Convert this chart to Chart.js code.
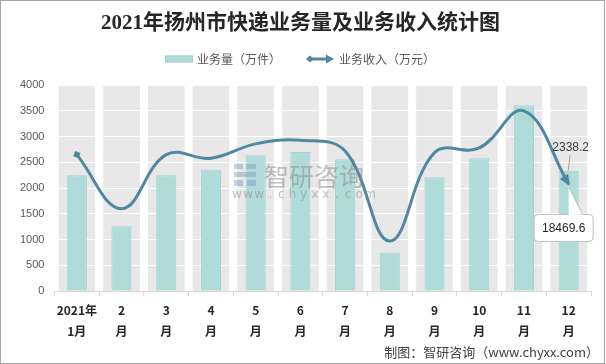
<!DOCTYPE html>
<html lang="zh-CN">
<head>
  <meta charset="UTF-8">
  <title>2021年扬州市快递业务量及业务收入统计图</title>
  <script src="https://cdn.jsdelivr.net/npm/chart.js"></script>
  <style>
    body { margin: 0; background: #fff; }
    #wrap { width: 606px; height: 364px; position: relative; }
  </style>
</head>
<body>
  <div id="wrap"><canvas id="expressChart"></canvas></div>

  <script>
    const months = [['2021年', '1月'], ['2', '月'], ['3', '月'], ['4', '月'], ['5', '月'], ['6', '月'],
                    ['7', '月'], ['8', '月'], ['9', '月'], ['10', '月'], ['11', '月'], ['12', '月']];
    const volume = [2250, 1260, 2250, 2360, 2640, 2700, 2560, 750, 2210, 2580, 3610, 2338.2];   // 业务量（万件）
    const revenue = [2650, 1600, 2650, 2580, 2860, 2930, 2720, 970, 2690, 2780, 3500, 2080];   // 业务收入（万元），按图上位置读取
    const yMin = 0, yMax = 4000, yStep = 500;
    const lastVolumeLabel = '2338.2';
    const lastRevenueLabel = '18469.6';

    const barColor = '#afdcd8';
    const lineColor = '#5088a1';
    const cjk = '"Noto Sans CJK SC", "Liberation Sans", sans-serif';

    // gray column behind every category
    const bandPlugin = {
      id: 'bands',
      beforeDraw(chart) {
        const { ctx, chartArea, scales: { x } } = chart;
        const w = (chartArea.right - chartArea.left) / months.length;
        ctx.save();
        ctx.fillStyle = '#e8e8e8';
        months.forEach((m, i) => {
          const cx = x.getPixelForValue(i);
          ctx.fillRect(cx - w * 0.41, chartArea.top, w * 0.82, chartArea.bottom - chartArea.top);
        });
        ctx.restore();
      }
    };

    const extrasPlugin = {
      id: 'extras',
      afterDatasetsDraw(chart) {
        const ctx = chart.ctx;
        const lineMeta = chart.getDatasetMeta(1);
        const barMeta = chart.getDatasetMeta(0);
        const p = lineMeta.data[lineMeta.data.length - 1];
        const b = barMeta.data[barMeta.data.length - 1];
        ctx.save();

        // watermark
        ctx.globalAlpha = 0.55;
        ctx.fillStyle = 'rgba(120,150,185,0.8)';
        ctx.fillRect(234, 164, 9, 5);
        ctx.fillRect(246, 164, 10, 5);
        ctx.fillRect(234, 172, 22, 5);
        ctx.fillRect(234, 180, 9, 6);
        ctx.fillRect(247, 180, 9, 6);
        ctx.fillStyle = '#8c8c8c';
        ctx.font = '25px ' + cjk;
        ctx.textBaseline = 'middle';
        ctx.textAlign = 'left';
        ctx.fillText('智研咨询', 264, 176);
        ctx.font = '12px "DejaVu Sans", sans-serif';
        const url = 'www.chyxx.com';
        for (let i = 0; i < url.length; i++) {
          ctx.textAlign = 'center';
          ctx.fillText(url[i], 237 + i * 11.1, 195);
        }
        ctx.globalAlpha = 1;

        // arrow head at the end of the line
        const ang = Math.atan2(p.y - p.cp1y, p.x - p.cp1x);
        ctx.fillStyle = lineColor;
        ctx.translate(p.x, p.y);
        ctx.rotate(ang);
        ctx.beginPath();
        ctx.moveTo(2, 0);
        ctx.lineTo(-9, -5);
        ctx.lineTo(-9, 5);
        ctx.closePath();
        ctx.fill();
        ctx.setTransform(1, 0, 0, 1, 0, 0);

        // label of the last bar with leader line
        ctx.strokeStyle = '#a6a6a6';
        ctx.lineWidth = 1;
        ctx.beginPath();
        ctx.moveTo(b.x + 1.5, b.y - 16);
        ctx.lineTo(b.x - 0.5, b.y);
        ctx.stroke();
        ctx.fillStyle = '#404040';
        ctx.font = '12px "Liberation Sans", sans-serif';
        ctx.textAlign = 'center';
        ctx.textBaseline = 'middle';
        ctx.fillText(lastVolumeLabel, b.x + 2, b.y - 23);

        // callout of the last line point
        const bx = p.x - 35, by = p.y + 30, bw = 59, bh = 27;
        ctx.fillStyle = '#ffffff';
        ctx.strokeStyle = '#bfbfbf';
        ctx.beginPath();
        ctx.roundRect(bx + 0.5, by + 0.5, bw, bh, 4);
        ctx.fill();
        ctx.stroke();
        ctx.beginPath();
        ctx.moveTo(p.x, by + 1);
        ctx.lineTo(p.x, p.y + 3);
        ctx.lineTo(p.x + 14, by + 0.5);
        ctx.fill();
        ctx.beginPath();
        ctx.moveTo(p.x, p.y + 3);
        ctx.lineTo(p.x + 14, by + 0.5);
        ctx.stroke();
        ctx.fillStyle = '#262626';
        ctx.fillText(lastRevenueLabel, bx + bw / 2 + 0.5, by + bh / 2 + 1);
        ctx.restore();
      },
      afterDraw(chart) {
        const ctx = chart.ctx;
        ctx.save();
        // legend
        const ly = 59;
        ctx.font = '12px ' + cjk;
        ctx.textBaseline = 'middle';
        ctx.textAlign = 'left';
        const t1 = '业务量（万件）', t2 = '业务收入（万元）';
        let x0 = chart.width / 2 - 138;
        ctx.fillStyle = barColor;
        ctx.fillRect(x0, ly - 3.5, 28, 7);
        ctx.strokeStyle = '#a3d4d0';
        ctx.strokeRect(x0 + 0.5, ly - 3, 27, 6);
        ctx.fillStyle = '#595959';
        ctx.fillText(t1, x0 + 32, ly);
        x0 += 32 + ctx.measureText(t1).width + 25;
        ctx.strokeStyle = lineColor;
        ctx.fillStyle = lineColor;
        ctx.lineWidth = 3;
        ctx.beginPath();
        ctx.moveTo(x0 + 3, ly);
        ctx.lineTo(x0 + 22, ly);
        ctx.stroke();
        ctx.beginPath();
        ctx.moveTo(x0, ly);
        ctx.lineTo(x0 + 4, ly - 3.5);
        ctx.lineTo(x0 + 8, ly);
        ctx.lineTo(x0 + 4, ly + 3.5);
        ctx.fill();
        ctx.beginPath();
        ctx.moveTo(x0 + 28, ly);
        ctx.lineTo(x0 + 20, ly - 4.5);
        ctx.lineTo(x0 + 20, ly + 4.5);
        ctx.fill();
        ctx.fillStyle = '#595959';
        ctx.fillText(t2, x0 + 33, ly);

        // source
        ctx.font = '13px ' + cjk;
        ctx.textAlign = 'right';
        ctx.fillStyle = '#404040';
        ctx.fillText('制图：智研咨询（www.chyxx.com）', 599, 352);

        // frame
        ctx.strokeStyle = '#a6a6a6';
        ctx.lineWidth = 1;
        ctx.strokeRect(0.5, 0.5, 604, 363);
        ctx.restore();
      }
    };

    const ctx = document.getElementById('expressChart').getContext('2d');
    new Chart(ctx, {
      data: {
        labels: months,
        datasets: [{
          type: 'bar',
          label: '业务量（万件）',
          data: volume,
          backgroundColor: barColor,
          borderColor: '#a3d4d0',
          borderWidth: 1,
          barPercentage: 0.45,
          categoryPercentage: 1,
          order: 1
        }, {
          type: 'line',
          label: '业务收入（万元）',
          data: revenue,
          borderColor: lineColor,
          backgroundColor: lineColor,
          borderWidth: 3,
          tension: 0.4,
          pointRadius: revenue.map((v, i) => i === 0 ? 4 : 0),
          pointStyle: 'rect',
          pointRotation: 20,
          pointBorderWidth: 0,
          clip: false,
          order: 0
        }]
      },
      options: {
        responsive: true,
        maintainAspectRatio: false,
        animation: false,
        events: [],
        layout: { padding: { left: 10, right: 15, top: 0, bottom: 18 } },
        plugins: {
          legend: { display: false },
          tooltip: { enabled: false },
          title: {
            display: true,
            text: '2021年扬州市快递业务量及业务收入统计图',
            color: '#262626',
            font: { family: '"Liberation Serif", "Noto Sans CJK SC", serif', size: 21, weight: 'bold', lineHeight: 1.2 },
            padding: { top: 11, bottom: 49 }
          }
        },
        scales: {
          x: {
            offset: true,
            grid: { display: true, drawOnChartArea: false, drawTicks: true, tickLength: 5, color: '#d9d9d9', offset: true },
            border: { display: true, color: '#d9d9d9' },
            ticks: {
              color: '#262626',
              padding: 4,
              maxRotation: 0,
              autoSkip: false,
              font: { family: cjk, size: 12, weight: 'bold', lineHeight: 1.75 }
            }
          },
          y: {
            min: yMin,
            max: yMax,
            grid: { color: '#ffffff', lineWidth: 1, drawTicks: false },
            border: { display: false },
            ticks: {
              stepSize: yStep,
              padding: 10,
              color: '#595959',
              font: { family: '"Liberation Sans", sans-serif', size: 11 },
              callback: v => String(v)
            }
          }
        }
      },
      plugins: [bandPlugin, extrasPlugin]
    });
  </script>
</body>
</html>
